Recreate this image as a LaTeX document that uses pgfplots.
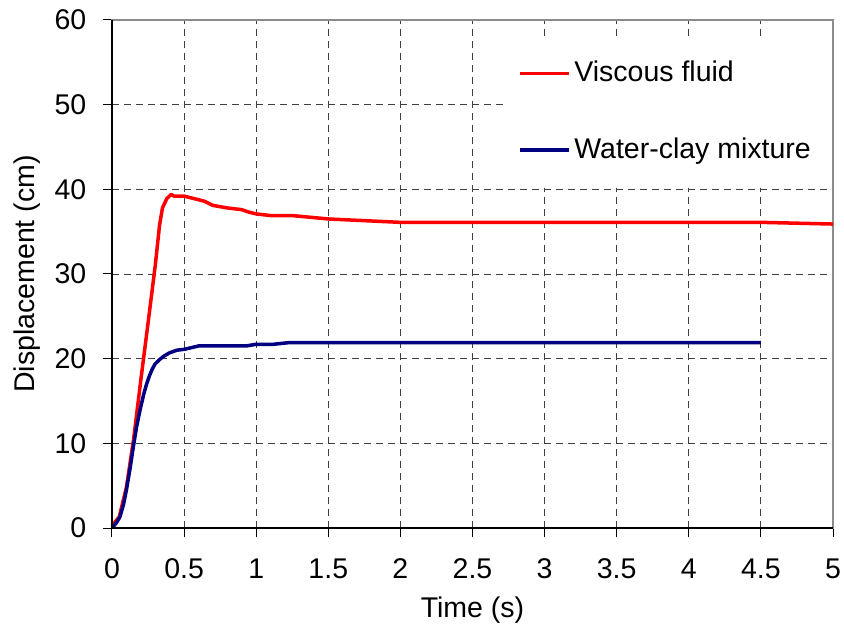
\documentclass[border=0pt]{standalone}
\usepackage{pgfplots}
\pgfplotsset{compat=1.18}
\usepackage{fontspec}
\setmainfont{Liberation Sans}
\usetikzlibrary{calc}
\definecolor{navyblue}{RGB}{0,0,128}
\definecolor{bordergray}{RGB}{140,140,140}
\begin{document}
\fontsize{28.5}{34}\selectfont
\begin{tikzpicture}
\begin{axis}[
  name=ax,
  scale only axis,
  width=721pt, height=508pt,
  xmin=0, xmax=5, ymin=0, ymax=60,
  xtick={0,0.5,...,5}, ytick={0,10,...,60},
  xticklabels={0,0.5,1,1.5,2,2.5,3,3.5,4,4.5,5},
  /pgf/number format/assume math mode=true,
  tick align=outside,
  xtick pos=bottom, ytick pos=left,
  major tick length=9pt,
  tick style={black, line width=1pt},
  xticklabel style={yshift=-12pt},
  yticklabel style={xshift=-7pt},
  grid=major,
  major grid style={black!75, line width=0.9pt, dash pattern=on 7pt off 5pt},
  axis line style={bordergray, line width=1.6pt},
  xlabel={Time (s)},
  ylabel={Displacement (cm)},
  xlabel style={at={(axis description cs:0.5,-0.162)}, anchor=center},
  ylabel style={at={(axis description cs:-0.118,0.5)}, anchor=center, rotate=0},
  legend cell align=left,
  legend style={at={(axis cs:2.73,58.15)}, anchor=north west, draw=none, fill=white,
    inner xsep=12pt, inner ysep=21pt, row sep=44pt,
    nodes={inner sep=4pt}},
  legend image code/.code={\draw[#1] (0pt,0pt) -- (45pt,0pt);\path (45pt,0pt) -- (49pt,0pt);},
  clip=false,
  after end axis/.code={
    \draw[black, line width=1.4pt] (rel axis cs:0,1) -- (rel axis cs:0,0) -- (rel axis cs:1,0);
  },
]
\addplot[red, line width=3.5pt, line join=round] coordinates {
(0,0.3) (0.05,1.3) (0.1,4.8) (0.15,10.5) (0.2,17.5) (0.25,24.2) (0.3,31)
(0.33,35.8) (0.35,37.8) (0.38,38.9) (0.41,39.4) (0.43,39.2) (0.5,39.2)
(0.57,38.9) (0.64,38.6) (0.7,38.1) (0.8,37.8) (0.9,37.6) (0.95,37.3)
(1.0,37.1) (1.1,36.9) (1.25,36.9) (1.5,36.5) (1.75,36.3) (2.0,36.1)
(4.5,36.1) (5.0,35.9)
};
\addlegendentry{Viscous fluid}
\addplot[navyblue, line width=3.5pt, line join=round] coordinates {
(0,0) (0.03,0.6) (0.055,1.3) (0.08,2.8) (0.1,4.5) (0.125,7.0) (0.148,9.6)
(0.17,11.9) (0.194,13.9) (0.22,15.8) (0.24,17.0) (0.26,18.0) (0.28,18.8)
(0.30,19.4) (0.33,19.9) (0.36,20.3) (0.4,20.7) (0.45,21.0) (0.5,21.1)
(0.55,21.3) (0.6,21.5) (0.93,21.5) (1.0,21.7) (1.12,21.7) (1.23,21.9) (4.5,21.9)
};
\addlegendentry{Water-clay mixture}
\end{axis}
\pgfresetboundingbox
\path ($(ax.south west)+(-112pt,-103pt)$) rectangle ($(ax.north east)+(11pt,20pt)$);
\end{tikzpicture}
\end{document}
